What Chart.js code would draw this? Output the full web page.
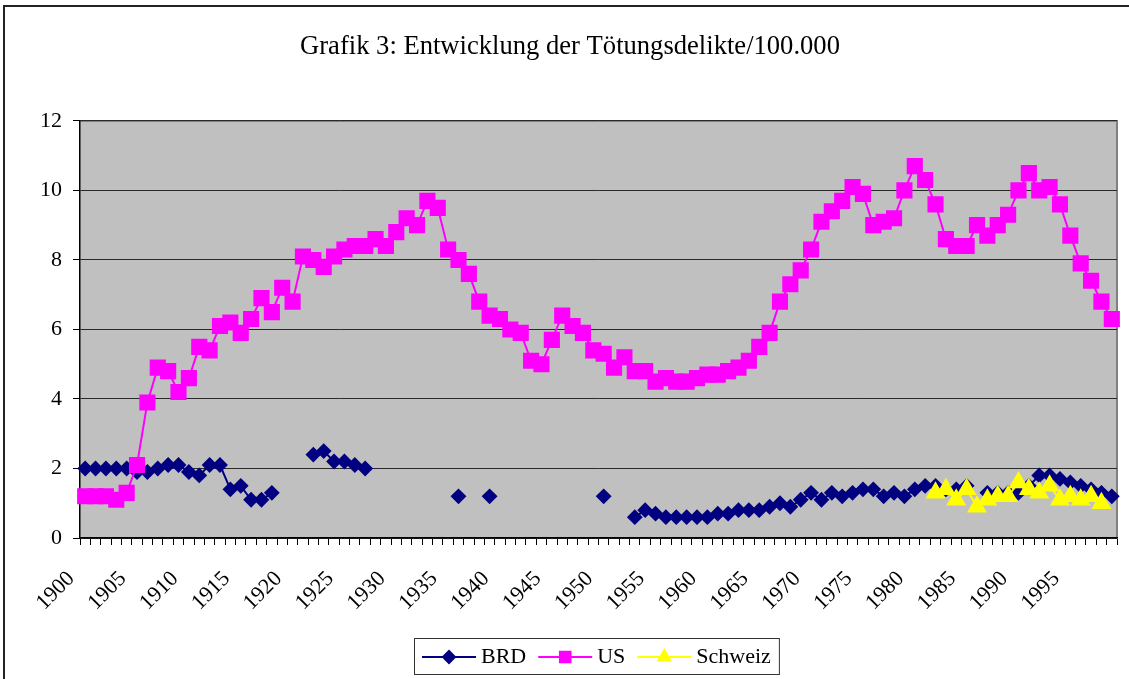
<!DOCTYPE html>
<html>
<head>
<meta charset="utf-8">
<script src="https://cdn.jsdelivr.net/npm/chart.js@4/dist/chart.umd.min.js"></script>
<style>
  html, body { margin: 0; padding: 0; background: #fff; }
  #chart { display: block; }
</style>
</head>
<body>
<canvas id="chart" width="1129" height="679"></canvas>
<script>
// years along the x-axis
const years = [
  1900, 1901, 1902, 1903, 1904, 1905, 1906, 1907, 1908, 1909,
  1910, 1911, 1912, 1913, 1914, 1915, 1916, 1917, 1918, 1919,
  1920, 1921, 1922, 1923, 1924, 1925, 1926, 1927, 1928, 1929,
  1930, 1931, 1932, 1933, 1934, 1935, 1936, 1937, 1938, 1939,
  1940, 1941, 1942, 1943, 1944, 1945, 1946, 1947, 1948, 1949,
  1950, 1951, 1952, 1953, 1954, 1955, 1956, 1957, 1958, 1959,
  1960, 1961, 1962, 1963, 1964, 1965, 1966, 1967, 1968, 1969,
  1970, 1971, 1972, 1973, 1974, 1975, 1976, 1977, 1978, 1979,
  1980, 1981, 1982, 1983, 1984, 1985, 1986, 1987, 1988, 1989,
  1990, 1991, 1992, 1993, 1994, 1995, 1996, 1997, 1998, 1999
];

// Tötungsdelikte pro 100.000 Einwohner
const brd = [
  2.0, 2.0, 2.0, 2.0, 2.0, 1.9, 1.9, 2.0, 2.1, 2.1,
  1.9, 1.8, 2.1, 2.1, 1.4, 1.5, 1.1, 1.1, 1.3, null,
  null, null, 2.4, 2.5, 2.2, 2.2, 2.1, 2.0, null, null,
  null, null, null, null, null, null, 1.2, null, null, 1.2,
  null, null, null, null, null, null, null, null, null, null,
  1.2, null, null, 0.6, 0.8, 0.7, 0.6, 0.6, 0.6, 0.6,
  0.6, 0.7, 0.7, 0.8, 0.8, 0.8, 0.9, 1.0, 0.9, 1.1,
  1.3, 1.1, 1.3, 1.2, 1.3, 1.4, 1.4, 1.2, 1.3, 1.2,
  1.4, 1.5, 1.5, 1.4, 1.4, 1.5, null, 1.3, 1.3, 1.3,
  1.3, 1.5, 1.8, 1.8, 1.7, 1.6, 1.5, 1.4, 1.3, 1.2
];

const us = [
  1.2, 1.2, 1.2, 1.1, 1.3, 2.1, 3.9, 4.9, 4.8, 4.2,
  4.6, 5.5, 5.4, 6.1, 6.2, 5.9, 6.3, 6.9, 6.5, 7.2,
  6.8, 8.1, 8.0, 7.8, 8.1, 8.3, 8.4, 8.4, 8.6, 8.4,
  8.8, 9.2, 9.0, 9.7, 9.5, 8.3, 8.0, 7.6, 6.8, 6.4,
  6.3, 6.0, 5.9, 5.1, 5.0, 5.7, 6.4, 6.1, 5.9, 5.4,
  5.3, 4.9, 5.2, 4.8, 4.8, 4.5, 4.6, 4.5, 4.5, 4.6,
  4.7, 4.7, 4.8, 4.9, 5.1, 5.5, 5.9, 6.8, 7.3, 7.7,
  8.3, 9.1, 9.4, 9.7, 10.1, 9.9, 9.0, 9.1, 9.2, 10.0,
  10.7, 10.3, 9.6, 8.6, 8.4, 8.4, 9.0, 8.7, 9.0, 9.3,
  10.0, 10.5, 10.0, 10.1, 9.6, 8.7, 7.9, 7.4, 6.8, 6.3
];

const schweiz = [
  null, null, null, null, null, null, null, null, null, null,
  null, null, null, null, null, null, null, null, null, null,
  null, null, null, null, null, null, null, null, null, null,
  null, null, null, null, null, null, null, null, null, null,
  null, null, null, null, null, null, null, null, null, null,
  null, null, null, null, null, null, null, null, null, null,
  null, null, null, null, null, null, null, null, null, null,
  null, null, null, null, null, null, null, null, null, null,
  null, null, 1.3, 1.4, 1.1, 1.4, 0.9, 1.1, 1.2, 1.2,
  1.6, 1.4, 1.3, 1.5, 1.1, 1.2, 1.1, 1.2, 1.0, null
];

const FONT = "'Liberation Serif', 'Times New Roman', serif";
Chart.defaults.font.family = FONT;
Chart.defaults.font.size = 22;
Chart.defaults.color = "#000";

// grey plot area, outer frame and the boxed legend (line + marker like Excel)
const excelLook = {
  id: "excelLook",
  beforeDraw(chart) {
    const { ctx, chartArea: a } = chart;
    ctx.save();
    ctx.fillStyle = "#c0c0c0";
    ctx.fillRect(a.left, a.top, a.right - a.left, a.bottom - a.top);
    ctx.strokeStyle = "#808080";
    ctx.lineWidth = 2;
    ctx.beginPath();
    ctx.moveTo(a.left, a.top);
    ctx.lineTo(a.right, a.top);
    ctx.lineTo(a.right, a.bottom);
    ctx.stroke();
    // chart frame
    ctx.strokeStyle = "#222";
    ctx.lineWidth = 2;
    ctx.beginPath();
    ctx.moveTo(4, chart.height);
    ctx.lineTo(4, 6);
    ctx.lineTo(chart.width, 6);
    ctx.stroke();
    ctx.restore();
  },
  afterDraw(chart) {
    const { ctx, chartArea: a } = chart;
    const sets = chart.data.datasets;
    ctx.save();
    ctx.font = "22px " + FONT;
    const lineLen = 54, gap = 5, between = 12, pad = 8;
    let total = 0;
    sets.forEach((ds, i) => {
      total += lineLen + gap + ctx.measureText(ds.label).width;
      if (i < sets.length - 1) total += between;
    });
    const boxW = total + pad * 2;
    const boxX = Math.round((a.left + a.right) / 2 - 2 - boxW / 2);
    const boxY = 638, boxH = 36;
    ctx.fillStyle = "#fff";
    ctx.fillRect(boxX, boxY, boxW, boxH);
    ctx.strokeStyle = "#333";
    ctx.lineWidth = 1;
    ctx.strokeRect(boxX + 0.5, boxY + 0.5, boxW, boxH);
    const cy = boxY + boxH / 2 + 1;
    let x = boxX + pad;
    sets.forEach(ds => {
      ctx.strokeStyle = ds.borderColor;
      ctx.lineWidth = 2;
      ctx.beginPath();
      ctx.moveTo(x, cy);
      ctx.lineTo(x + lineLen, cy);
      ctx.stroke();
      ctx.fillStyle = ds.backgroundColor;
      ctx.strokeStyle = ds.borderColor;
      Chart.helpers.drawPoint(ctx, {
        pointStyle: ds.pointStyle,
        radius: ds.legendRadius,
        rotation: 0,
        borderWidth: 1
      }, x + lineLen / 2, cy);
      ctx.fillStyle = "#000";
      ctx.textBaseline = "middle";
      ctx.textAlign = "left";
      ctx.fillText(ds.label, x + lineLen + gap, cy);
      x += lineLen + gap + ctx.measureText(ds.label).width + between;
    });
    ctx.restore();
  }
};

new Chart(document.getElementById("chart"), {
  type: "line",
  data: {
    labels: years,
    datasets: [
      {
        label: "BRD",
        data: brd,
        borderColor: "#000080",
        backgroundColor: "#000080",
        borderWidth: 2,
        pointStyle: "rectRot",
        pointRadius: 6.5,
        legendRadius: 6,
        order: 3
      },
      {
        label: "US",
        data: us,
        borderColor: "#ff00ff",
        backgroundColor: "#ff00ff",
        borderWidth: 2,
        pointStyle: "rect",
        pointRadius: 10,
        legendRadius: 7.5,
        order: 2
      },
      {
        label: "Schweiz",
        data: schweiz,
        borderColor: "#ffff00",
        backgroundColor: "#ffff00",
        borderWidth: 2,
        pointStyle: "triangle",
        pointRadius: 9.5,
        legendRadius: 7,
        order: 1
      }
    ]
  },
  options: {
    responsive: false,
    animation: false,
    devicePixelRatio: 1,
    spanGaps: false,
    clip: false,
    elements: {
      line: { tension: 0 },
      point: { borderWidth: 1, hoverRadius: 6 }
    },
    layout: { padding: { top: 0, left: 22, right: 11, bottom: 0 } },
    plugins: {
      legend: { display: false },
      tooltip: { enabled: false },
      title: {
        display: true,
        text: "Grafik 3: Entwicklung der Tötungsdelikte/100.000",
        color: "#000",
        font: { size: 26.6, weight: "normal", family: FONT },
        padding: { top: 31, bottom: 58 }
      }
    },
    scales: {
      x: {
        type: "category",
        offset: true,
        grid: {
          offset: true,
          drawOnChartArea: false,
          tickLength: 7,
          tickColor: "#000"
        },
        border: { color: "#000", width: 1.5 },
        ticks: {
          autoSkip: false,
          minRotation: 45,
          maxRotation: 45,
          padding: 21,
          labelOffset: -14,
          font: { size: 22 },
          callback: function (val, idx) {
            const y = years[idx];
            return y % 5 === 0 ? String(y) : "";
          }
        },
        afterFit(scale) {
          scale.height = 141;
          scale.paddingLeft = 0;
          scale.paddingRight = 0;
        }
      },
      y: {
        min: 0,
        max: 12,
        grid: {
          color: "#2a2a2a",
          tickColor: "#000",
          tickLength: 7
        },
        border: { color: "#000", width: 1.5 },
        ticks: {
          stepSize: 2,
          padding: 11,
          font: { size: 22 }
        },
        afterFit(scale) { scale.width = 58; }
      }
    }
  },
  plugins: [excelLook]
});
</script>
</body>
</html>
